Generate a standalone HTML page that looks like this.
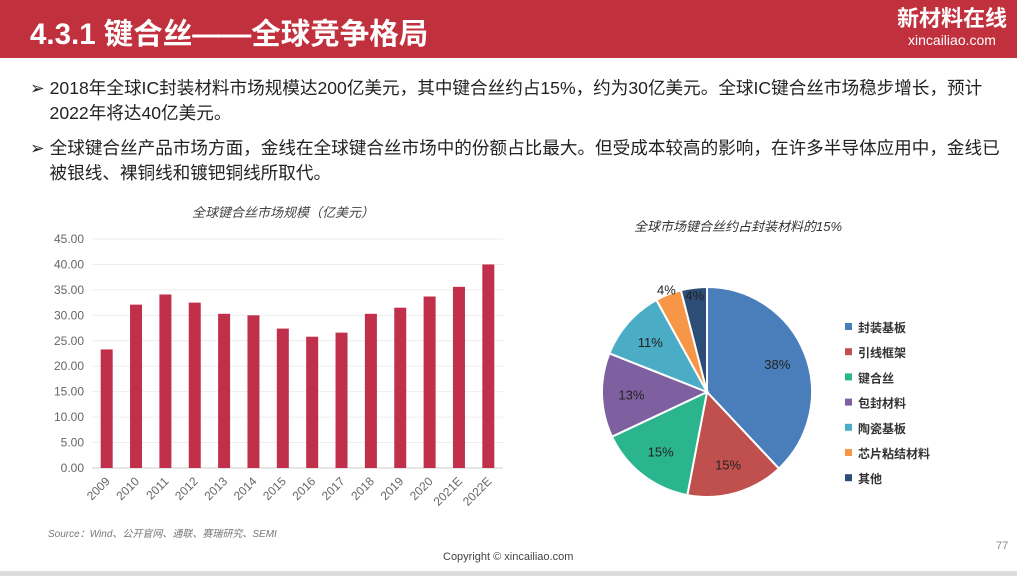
<!DOCTYPE html>
<html><head><meta charset="utf-8"><style>
body{margin:0;width:1017px;height:576px;overflow:hidden;background:#fff;font-family:"Liberation Sans","Noto Sans CJK SC",sans-serif;position:relative}
.hdr{position:absolute;left:0;top:0;width:1017px;height:58px;background:#c1303d}
.ttl{position:absolute;left:30px;top:11px;color:#fff;font-size:29.5px;font-weight:bold}
.logo{position:absolute;right:10px;top:6px;color:#fff;text-align:center}
.bul{position:absolute;left:30px;font-size:17.6px;color:#222;line-height:25px;width:985px;white-space:nowrap}
</style></head><body>
<div class="hdr"></div>
<div class="ttl">4.3.1 键合丝——全球竞争格局</div>
<div class="logo"><div style="font-size:22px;font-weight:bold;line-height:26px">新材料在线</div><div style="font-size:14px;line-height:16px">xincailiao.com</div></div>
<div class="bul" style="top:76px">➢ 2018年全球IC封装材料市场规模达200亿美元，其中键合丝约占15%，约为30亿美元。全球IC键合丝市场稳步增长，预计<br>&nbsp;&nbsp;&nbsp;&nbsp;2022年将达40亿美元。</div>
<div class="bul" style="top:136px">➢ 全球键合丝产品市场方面，金线在全球键合丝市场中的份额占比最大。但受成本较高的影响，在许多半导体应用中，金线已<br>&nbsp;&nbsp;&nbsp;&nbsp;被银线、裸铜线和镀钯铜线所取代。</div>
<svg id="chart" width="1017" height="576" style="position:absolute;left:0;top:0"></svg>
<div style="position:absolute;left:443px;top:551px;font-size:11px;color:#444">Copyright © xincailiao.com</div>
<div style="position:absolute;left:996px;top:540px;font-size:11px;color:#888">77</div>
<div style="position:absolute;left:0;top:571px;width:1017px;height:5px;background:#ddd"></div>
<script>
const years=["2009","2010","2011","2012","2013","2014","2015","2016","2017","2018","2019","2020","2021E","2022E"];
const sizes=[23.3,32.1,34.1,32.5,30.3,30.0,27.4,25.8,26.6,30.3,31.5,33.7,35.6,40.0];
const yTicks=[0,5,10,15,20,25,30,35,40,45];
const pieLabels=["封装基板","引线框架","键合丝","包封材料","陶瓷基板","芯片粘结材料","其他"];
const pieValues=[38,15,15,13,11,4,4];
const pieColors=["#4a7ebb","#c0504d","#2bb58f","#7e60a0","#4bacc6","#f79646","#2c4d75"];
const NS="http://www.w3.org/2000/svg";
const svg=document.getElementById('chart');
function mk(t,a,txt){const e=document.createElementNS(NS,t);for(const k in a)e.setAttribute(k,a[k]);if(txt!=null)e.textContent=txt;svg.appendChild(e);return e;}
const x0=92,x1=503,y0=468,yTop=239,yMax=45;
const ys=v=>y0-(v/yMax)*(y0-yTop);
const step=(x1-x0)/years.length;
const xs=i=>x0+step*(i+0.5);
let t=mk('text',{x:283,y:217,'text-anchor':'middle','font-size':13,'font-style':'italic',fill:'#444'},'全球键合丝市场规模（亿美元）');

yTicks.forEach(v=>{
 const l=mk('line',{x1:x0,x2:x1,y1:ys(v),y2:ys(v),stroke:v==0?'#ccc':'#eee'});
 
 const tx=mk('text',{x:84,y:ys(v)+4,'text-anchor':'end','font-size':12,fill:'#666'},v.toFixed(2));
 
});
years.forEach((y,i)=>{
 const b=mk('rect',{x:xs(i)-6,y:ys(sizes[i]),width:12,height:y0-ys(sizes[i]),fill:'#c0304a'});
 
 const tx=mk('text',{x:xs(i)+4,y:482,'text-anchor':'end','font-size':12,fill:'#666',transform:`rotate(-45 ${xs(i)+4} 482)`},y);
 
});
t=mk('text',{x:48,y:537,'font-size':10,'font-style':'italic',fill:'#777'},'Source：Wind、公开官网、通联、赛瑞研究、SEMI');

t=mk('text',{x:738,y:231,'text-anchor':'middle','font-size':13,'font-style':'italic',fill:'#333'},'全球市场键合丝约占封装材料的15%');

const cx=707,cy=392,r=105;
const total=pieValues.reduce((a,b)=>a+b,0);
let a=0;
pieValues.forEach((v,i)=>{
 const a1=a,a2=a+v/total*2*Math.PI;a=a2;
 const p=(ang,rr)=>[cx+rr*Math.sin(ang),cy-rr*Math.cos(ang)];
 const s=p(a1,r),e=p(a2,r);
 const path=mk('path',{d:`M${cx},${cy}L${s[0]},${s[1]}A${r},${r} 0 ${a2-a1>Math.PI?1:0} 1 ${e[0]},${e[1]}Z`,fill:pieColors[i],stroke:'#fff','stroke-width':2});
 
 const mid=(a1+a2)/2;
 let rr=r*0.72;
 if(v<5) rr = (i===pieValues.length-1)? r*0.93 : r*1.05;
 const lp=p(mid,rr);
 const tx=mk('text',{x:lp[0],y:lp[1]+5,'text-anchor':'middle','font-size':13,fill:'#222'},v+'%');
 
 const ly=328+i*25.2;
 const sq=mk('rect',{x:845,y:ly-5,width:7,height:7,fill:pieColors[i]});
 
 const lt=mk('text',{x:858,y:ly+4,'font-size':12,fill:'#333','font-weight':'bold'},pieLabels[i]);
 
});
</script>
</body></html>
